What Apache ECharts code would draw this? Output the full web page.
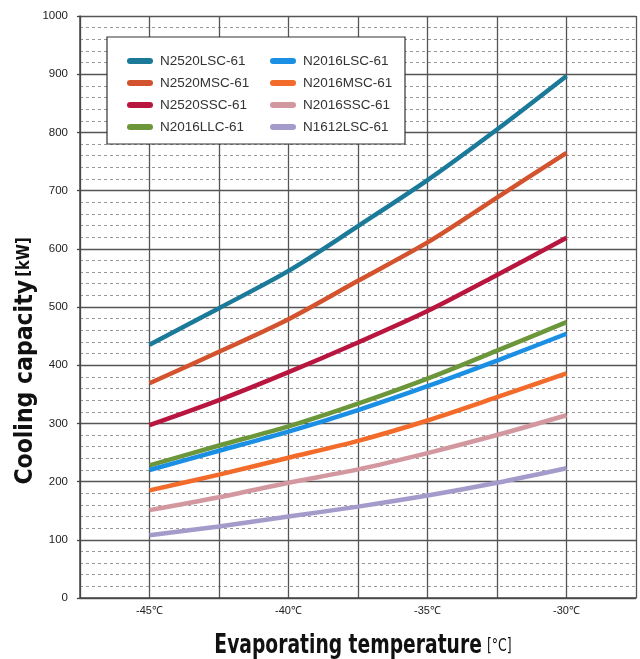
<!DOCTYPE html>
<html>
<head>
<meta charset="utf-8">
<script src="https://cdn.jsdelivr.net/npm/echarts@6/dist/echarts.min.js"></script>
<style>
html,body{margin:0;padding:0;background:#fff;}
#chart{width:640px;height:659px;}
</style>
</head>
<body>
<div id="chart"></div>
<script>
// ---- data ----
var temps = [-45, -42.5, -40, -37.5, -35, -32.5, -30];
var xTicks = [-45, -40, -35, -30];
var seriesNames = ['N2520LSC-61','N2520MSC-61','N2520SSC-61','N2016LLC-61','N2016LSC-61','N2016MSC-61','N2016SSC-61','N1612LSC-61'];
var N2520LSC = [435, 498, 562, 639, 718, 805, 897];
var N2520MSC = [369, 423, 479, 545, 611, 688, 765];
var N2520SSC = [297, 340, 388, 439, 493, 555, 619];
var N2016LLC = [228, 262, 295, 334, 377, 425, 474];
var N2016LSC = [220, 253, 286, 323, 364, 408, 454];
var N2016MSC = [185, 212, 241, 270, 305, 345, 386];
var N2016SSC = [151, 173, 198, 221, 249, 280, 314];
var N1612LSC = [108, 123, 140, 157, 176, 198, 223];
var allValues = [N2520LSC, N2520MSC, N2520SSC, N2016LLC, N2016LSC, N2016MSC, N2016SSC, N1612LSC];
var colors = ['#1b7a99','#d2532e','#b8163f','#6b963a','#1a8fe3','#f26b2a','#d3979f','#a59bcb'];

var narrow = '"Liberation Sans Narrow","DejaVu Sans Condensed","Arial Narrow",sans-serif';
var sans = '"Liberation Sans",Arial,sans-serif';
var pill = 'path://M3,0 L23,0 A3,3 0 0 1 23,6 L3,6 A3,3 0 0 1 3,0 Z';

var chart = echarts.init(document.getElementById('chart'), null, {renderer:'canvas'});

var series = seriesNames.map(function(n, i){
  return {
    name: n,
    type: 'line',
    smooth: 0.3,
    symbol: 'none',
    data: temps.map(function(t, j){ return [t, allValues[i][j]]; }),
    lineStyle: {width: 4.5, color: colors[i], cap: 'butt'},
    itemStyle: {color: colors[i]},
    z: 3
  };
});

var legendCommon = {
  orient: 'vertical',
  top: 49,
  itemWidth: 26,
  itemHeight: 6,
  itemGap: 8,
  icon: pill,
  z: 6,
  textStyle: {fontFamily: sans, fontSize: 13.5, color: '#333', padding: [0,0,0,2]}
};

var option = {
  backgroundColor: '#fff',
  animation: false,
  color: colors,
  grid: {left: 80, right: 4, top: 16, bottom: 61, containLabel: false},
  legend: [
    Object.assign({}, legendCommon, {left: 122, data: seriesNames.slice(0,4)}),
    Object.assign({}, legendCommon, {left: 265, data: seriesNames.slice(4)})
  ],
  graphic: [
    {type:'rect', z: 4, shape:{x:107, y:37, width:298, height:107},
     style:{fill:'#fff', stroke:'#333', lineWidth:1.2}},
    {type:'text', z: 5, x: 25, y: 361, rotation: Math.PI/2, scaleX: 0.96,
     style:{text:'{a|Cooling capacity} {b|[kW]}', align:'center', verticalAlign:'middle',
       rich:{a:{fontFamily:narrow, fontWeight:'bold', fontSize:25.5, fill:'#111'},
             b:{fontFamily:narrow, fontSize:17, fill:'#111', fontWeight:'bold'}}}},
    {type:'text', z: 5, x: 363, y: 646, scaleX: 0.77,
     style:{text:'{a|Evaporating temperature}  {b|[°C]}', align:'center', verticalAlign:'middle',
       rich:{a:{fontFamily:narrow, fontWeight:'bold', fontSize:27, fill:'#111'},
             b:{fontFamily:narrow, fontSize:18, fill:'#111'}}}}
  ],
  xAxis: {
    type: 'value',
    min: -47.5, max: -27.5, interval: 2.5,
    axisLine: {show: true, lineStyle: {color: '#444', width: 1.5}},
    axisTick: {show: false},
    axisLabel: {
      margin: 7, fontFamily: sans, fontSize: 11, color: '#222',
      formatter: function(v){ return xTicks.indexOf(v) >= 0 ? v + '℃' : ''; }
    },
    splitLine: {show: true, lineStyle: {color: '#555', width: 1.3}}
  },
  yAxis: {
    type: 'value',
    min: 0, max: 1000, interval: 100,
    axisLine: {show: true, lineStyle: {color: '#444', width: 1.5}},
    axisTick: {show: true, length: 3, lineStyle: {color: '#444', width: 1.3}},
    axisLabel: {margin: 12, fontFamily: sans, fontSize: 11.5, color: '#222',
      formatter: function(v){ return String(v); }},
    splitLine: {show: true, lineStyle: {color: '#555', width: 1.3}},
    minorTick: {show: false, splitNumber: 5},
    minorSplitLine: {show: true, lineStyle: {color: '#999', width: 1, type: [3, 3]}}
  },
  series: series
};
chart.setOption(option);
</script>
</body>
</html>
